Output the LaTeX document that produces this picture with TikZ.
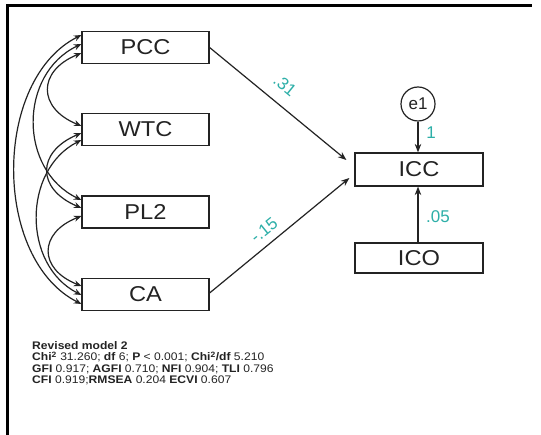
\documentclass[tikz,border=0pt]{standalone}
\usepackage{fontspec}
\setmainfont{Liberation Sans}
\newfontfamily\widesans[FakeStretch=1.1]{Liberation Sans}
\usetikzlibrary{arrows.meta,calc}
\definecolor{ink}{RGB}{35,35,35}
\definecolor{coef}{RGB}{45,175,168}
\begin{document}
\begin{tikzpicture}[x=1pt,y=-1pt,
  var/.style={draw=ink,line width=1.2pt,minimum width=127pt,minimum height=32pt,inner sep=0pt,font=\widesans\fontsize{21.5}{21.5}\selectfont,text=ink},
  err/.style={draw=ink,line width=1.2pt,circle,minimum size=34pt,inner sep=0pt,font=\fontsize{17}{17}\selectfont,text=ink},
  cov/.style={draw=ink,line width=1.2pt,{Stealth[length=7.5pt,width=6pt]}-{Stealth[length=7.5pt,width=6pt]}},
  path/.style={draw=ink,line width=1.2pt,-{Stealth[length=8.5pt,width=6.5pt]}},
  lab/.style={text=coef,font=\fontsize{17}{17}\selectfont,inner sep=0pt},
  fit/.style={anchor=base west,inner sep=0pt,text=ink,font=\widesans\fontsize{11}{11}\selectfont}]
\useasboundingbox (0,0) rectangle (541,435);
\fill[white] (0,0) rectangle (541,435);
% frame
\draw[line width=2.6pt,black] (7.5,435) -- (7.5,5.5) -- (532,5.5);
% nodes
\node[var] (PCC) at (145.5,47.5) {PCC};
\node[var] (WTC) at (145.5,129.5) {WTC};
\node[var] (PL2) at (145.5,212) {PL2};
\node[var] (CA) at (145.5,294.5) {CA};
\node[var,minimum width=128pt,minimum height=33pt] (ICC) at (419,169.5) {ICC};
\node[var,minimum width=128pt,minimum height=30pt] (ICO) at (419,258) {ICO};
\node[err] (e1) at (418,104) {e1};
% covariances
\draw[cov] ($(PCC.west)+(0,5.5)$) .. controls +(-44,18) and +(-44,-18) .. ($(WTC.west)+(0,-3.5)$);
\draw[cov] ($(PCC.west)+(0,-3.5)$) .. controls +(-63,30) and +(-63,-30) .. ($(PL2.west)+(0,-12)$);
\draw[cov] ($(PCC.west)+(0,-12.5)$) .. controls +(-89,45) and +(-89,-45) .. ($(CA.west)+(0,9.5)$);
\draw[cov] ($(WTC.west)+(0,3.5)$) .. controls +(-45,19) and +(-45,-19) .. ($(PL2.west)+(0,-4)$);
\draw[cov] ($(WTC.west)+(0,10.5)$) .. controls +(-59,30) and +(-59,-30) .. ($(CA.west)+(0,0.5)$);
\draw[cov] ($(PL2.west)+(0,4)$) .. controls +(-43,17) and +(-43,-17) .. ($(CA.west)+(0,-8.5)$);
% paths
\draw[path] (PCC.east) -- ($(ICC.west)+(-8,-9.5)$);
\draw[path] ($(CA.east)+(0,-1.5)$) -- ($(ICC.west)+(-5,8.5)$);
\draw[path] (e1.south) -- (ICC.north -| e1.south);
\draw[path] (ICO.north -| e1.south) -- (ICC.south -| e1.south);
% coefficients
\node[lab,rotate=-39] (c1) at (285,85) {.31};
\node[lab,rotate=39] (c2) at (264,230) {-.15};
\node[lab] (c3) at (431,133) {1};
\node[lab] (c4) at (438,217) {.05};
% fit text
\node[fit] (t1) at (32,349.5) {\textbf{Revised model 2}};
\node[fit] (t2) at (32,361) {\textbf{Chi\textsuperscript{2}} 31.260; \textbf{df} 6; \textbf{P} < 0.001; \textbf{Chi\textsuperscript{2}/df} 5.210};
\node[fit] (t3) at (32,372.5) {\textbf{GFI} 0.917; \textbf{AGFI} 0.710; \textbf{NFI} 0.904; \textbf{TLI} 0.796};
\node[fit] (t4) at (32,384) {\textbf{CFI} 0.919;\textbf{RMSEA} 0.204 \textbf{ECVI} 0.607};
\end{tikzpicture}
\end{document}
